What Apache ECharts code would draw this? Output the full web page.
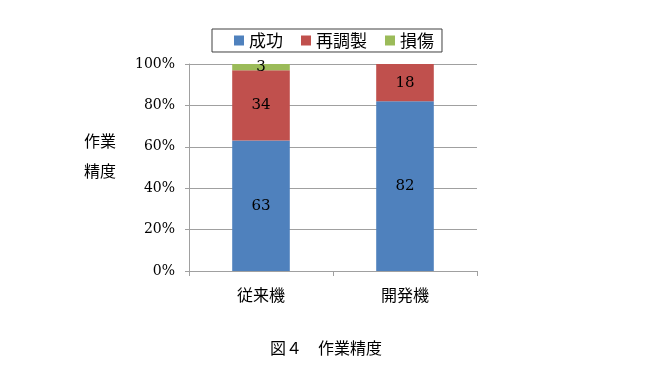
<!DOCTYPE html>
<html><head><meta charset="utf-8">
<script src="https://cdn.jsdelivr.net/npm/echarts@6/dist/echarts.min.js"></script>
<style>html,body{margin:0;padding:0;background:#fff}#c{width:647px;height:374px}</style>
</head><body><div id="c"></div>
<script>
const categories = ['従来機', '開発機'];
const seriesNames = ['成功', '再調製', '損傷'];
const success = [63, 82];
const rework = [34, 18];
const damage = [3, 0];
const yTicks = [0, 20, 40, 60, 80, 100];
const colors = ['#4F81BD', '#C0504D', '#9BBB59'];
const serif = '"DejaVu Serif", serif';
const gothic = '"Noto Sans CJK JP", sans-serif';

const chart = echarts.init(document.getElementById('c'));
const mk = (name, data, color) => ({
  name, type: 'bar', stack: 'all', data, barWidth: '40%',
  itemStyle: {color},
  label: {show: true, position: 'inside', color: '#000', fontFamily: serif, fontSize: 15,
    formatter: p => p.value === 0 ? '' : String(p.value)}
});
chart.setOption({
  animation: false,
  textStyle: {fontFamily: gothic},
  legend: {
    data: seriesNames, left: 212, top: 29, itemWidth: 10, itemHeight: 10, icon: 'rect',
    itemGap: 18, borderColor: '#404040', borderWidth: 1, padding: [3, 8, 3, 22],
    textStyle: {fontFamily: gothic, fontSize: 17, color: '#000'}
  },
  grid: {left: 189, right: 170, top: 64, bottom: 103},
  xAxis: {
    type: 'category', data: categories,
    axisLine: {lineStyle: {color: '#A0A0A0'}},
    axisTick: {show: true, length: 5, lineStyle: {color: '#A0A0A0'}},
    axisLabel: {color: '#000', fontFamily: gothic, fontSize: 16, margin: 16}
  },
  yAxis: {
    type: 'value', min: 0, max: 100, interval: 20,
    axisLine: {show: true, lineStyle: {color: '#A0A0A0'}},
    axisTick: {show: true, length: 4, lineStyle: {color: '#A0A0A0'}},
    splitLine: {lineStyle: {color: '#A0A0A0'}},
    axisLabel: {color: '#000', fontFamily: serif, fontSize: 14, margin: 14,
      formatter: v => yTicks.includes(v) ? v + '%' : ''}
  },
  graphic: [
    {type: 'text', left: 84, top: 133, style: {text: '作業', font: '16px ' + gothic, fill: '#000'}},
    {type: 'text', left: 84, top: 163, style: {text: '精度', font: '16px ' + gothic, fill: '#000'}},
    {type: 'text', left: 270, top: 340, style: {text: '図４　作業精度', font: '16px ' + gothic, fill: '#000'}}
  ],
  series: [mk(seriesNames[0], success, colors[0]), mk(seriesNames[1], rework, colors[1]), mk(seriesNames[2], damage, colors[2])]
});
</script></body></html>
